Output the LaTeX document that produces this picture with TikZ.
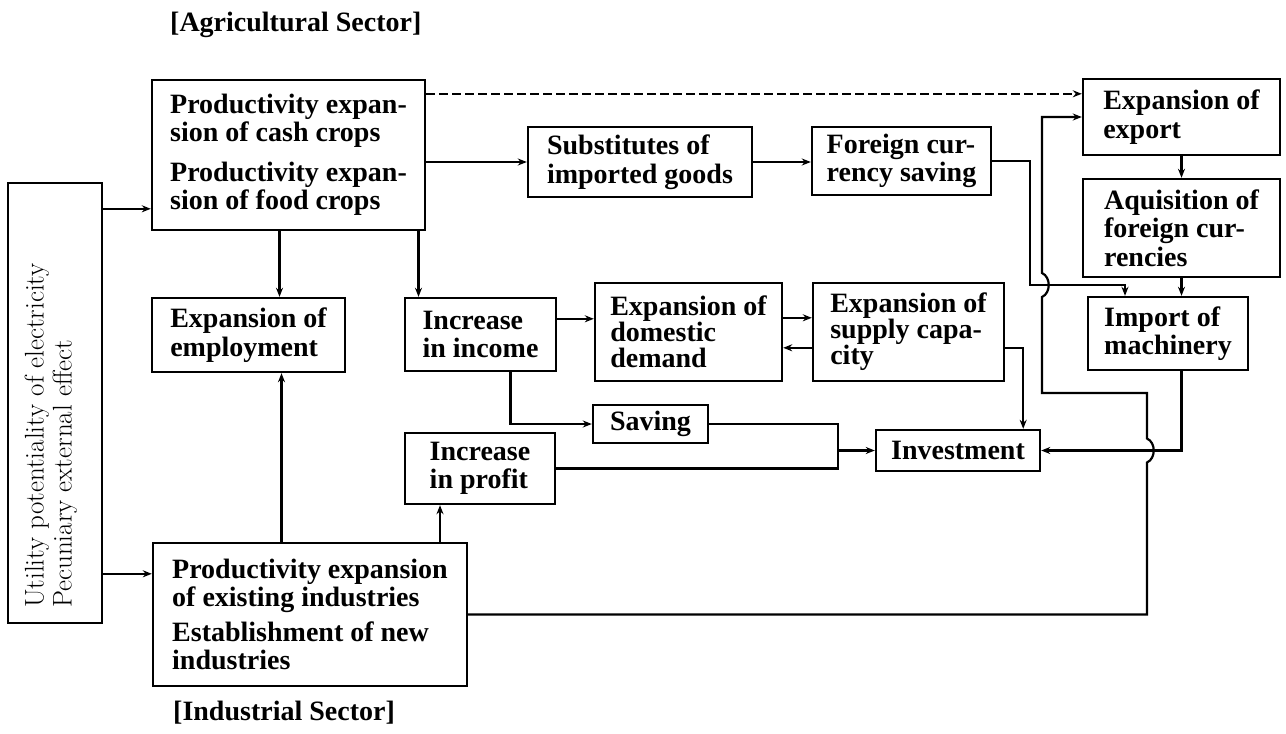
\documentclass[tikz,border=0pt]{standalone}
\usepackage{fontspec}
\newfontfamily\tf{Liberation Serif}
\usetikzlibrary{arrows.meta,calc}
\begin{document}
\begin{tikzpicture}[x=1pt,y=-1pt,
  box/.style={draw, line width=2.4pt, inner sep=0pt, align=left,
    font=\tf\bfseries\fontsize{28}{28.5}\selectfont},
  tbox/.style={box, font=\tf\bfseries\fontsize{28}{26}\selectfont},
  ttl/.style={inner sep=0pt, anchor=west, font=\tf\bfseries\fontsize{28}{28.5}\selectfont},
  conn/.style={line width=2.2pt, -{Stealth[length=9pt,width=7pt]}},
  plain/.style={line width=2.2pt},
  dsh/.style={dash pattern=on 9pt off 4pt}
]
\useasboundingbox (0,0) rectangle (1286,734);

% titles
\node[ttl] (agt) at (170,25) {[Agricultural Sector]};
\node[ttl] (indt) at (173,713) {[Industrial Sector]};

% boxes
\node[box, minimum width=94pt, minimum height=440pt] (left) at (55,403) {};
\node[rotate=90, anchor=west, align=left, inner sep=0pt,
      font=\fontsize{27}{28}\selectfont] (lefttext) at (51,608)
  {Utility potentiality of electricity\\Pecuniary external effect};

\node[box, minimum width=273pt, minimum height=150pt] (agri) at (288.5,155)
  {Productivity expan-\\sion of cash crops\\[11pt]Productivity expan-\\sion of food crops};
\node[box, minimum width=224pt, minimum height=70pt] (subs) at (640,162)
  {Substitutes of\\imported goods};
\node[box, minimum width=179pt, minimum height=68pt] (foreign) at (901.5,161)
  {Foreign cur-\\rency saving};
\node[box, minimum width=197pt, minimum height=76pt] (export) at (1181.5,117)
  {Expansion of\\export\hspace*{68pt}};
\node[box, minimum width=197pt, minimum height=98pt] (aquis) at (1181.5,228)
  {Aquisition of\\foreign cur-\\rencies};
\node[box, minimum width=160pt, minimum height=73pt] (import) at (1168,333.5)
  {Import of\\machinery};
\node[box, minimum width=193pt, minimum height=74pt] (employ) at (248.5,335)
  {Expansion of\\employment};
\node[box, minimum width=151pt, minimum height=73pt] (income) at (480.5,334.5)
  {Increase\\in income};
\node[box, minimum width=150pt, minimum height=71pt] (profit) at (480,468.5)
  {Increase\\in profit};
\node[tbox, minimum width=187pt, minimum height=98pt] (demand) at (688.5,332)
  {Expansion of\\domestic\\demand};
\node[tbox, minimum width=191pt, minimum height=98pt] (supply) at (908.5,332)
  {Expansion of\\supply capa-\\city};
\node[box, minimum width=115pt, minimum height=38pt] (saving) at (650.5,424)
  {Saving};
\node[box, minimum width=164pt, minimum height=41pt] (invest) at (958,450.5)
  {Investment};
\node[box, minimum width=314pt, minimum height=143pt] (indus) at (310,614.5)
  {Productivity expansion\\of existing industries\\[6pt]Establishment of new\\industries};

% helper coordinates
\coordinate (dA) at ($(agri.north east)+(0,15)$);
\coordinate (fI) at ($(import.north)+(-43,0)$);
\coordinate (fturn) at ($(foreign.east)+(38,124)$);
\coordinate (bA) at (1147,393);
\coordinate (bB) at (1042,393);
\coordinate (h1) at (bA |- invest.east);
\coordinate (h2) at (bB |- fturn);
\coordinate (iD) at ($(income.north east)+(0,22)$);
\coordinate (dS1) at ($(demand.north east)+(0,36)$);
\coordinate (dS2) at ($(supply.north west)+(0,66)$);
\coordinate (iS) at ($(income.south)+(30,0)$);
\coordinate (jx) at ($(invest.west)+(-37,0)$);
\coordinate (sI) at ($(supply.north east)+(0,66)$);
\coordinate (sI2) at ($(invest.north east)+(-18,0)$);
\coordinate (lA) at ($(agri.north west)+(0,130)$);
\coordinate (lI) at ($(indus.north west)+(0,32)$);
\coordinate (aE) at ($(employ.north)+(31,0)$);
\coordinate (iE) at ($(employ.south)+(33,0)$);
\coordinate (aI) at ($(income.north)+(-62,0)$);
\coordinate (iP) at ($(profit.south)+(-40,0)$);

% connectors
\draw[conn,dsh] (dA) -- (dA -| export.west);
\draw[conn] (agri.east |- subs.west) -- (subs.west);
\draw[conn] (subs.east) -- (subs.east -| foreign.west);
\draw[conn] (foreign.east) -- ++(38,0) -- (fturn) -| (fI);
\draw[conn] (export.south) -- (aquis.north);
\draw[conn] (aquis.south) -- (aquis.south |- import.north);
\draw[conn] (aquis.south |- import.south) |- (invest.east);
\draw[conn] (indus.east) -| ($(h1)+(0,12)$)
   .. controls ($(h1)+(9,8)$) and ($(h1)+(9,-8)$) .. ($(h1)+(0,-12)$)
   -- (bA) -- (bB) -- ($(h2)+(0,12)$)
   .. controls ($(h2)+(9,8)$) and ($(h2)+(9,-8)$) .. ($(h2)+(0,-12)$)
   |- (export.west);
\draw[conn] (iD) -- (iD -| demand.west);
\draw[conn] (dS1) -- (dS1 -| supply.west);
\draw[conn] (dS2) -- (dS2 -| demand.east);
\draw[conn] (iS) |- (saving.west);
\draw[plain] (saving.east) -| (jx);
\draw[plain] (profit.east) -| (jx);
\draw[conn] (jx) -- (invest.west);
\draw[conn] (sI) -| (sI2);
\draw[conn] (lA -| left.east) -- (lA);
\draw[conn] (lI -| left.east) -- (lI);
\draw[conn] (aE |- agri.south) -- (aE);
\draw[conn] (iE |- indus.north) -- (iE);
\draw[conn] (aI |- agri.south) -- (aI);
\draw[conn] (iP |- indus.north) -- (iP);
\end{tikzpicture}
\end{document}
